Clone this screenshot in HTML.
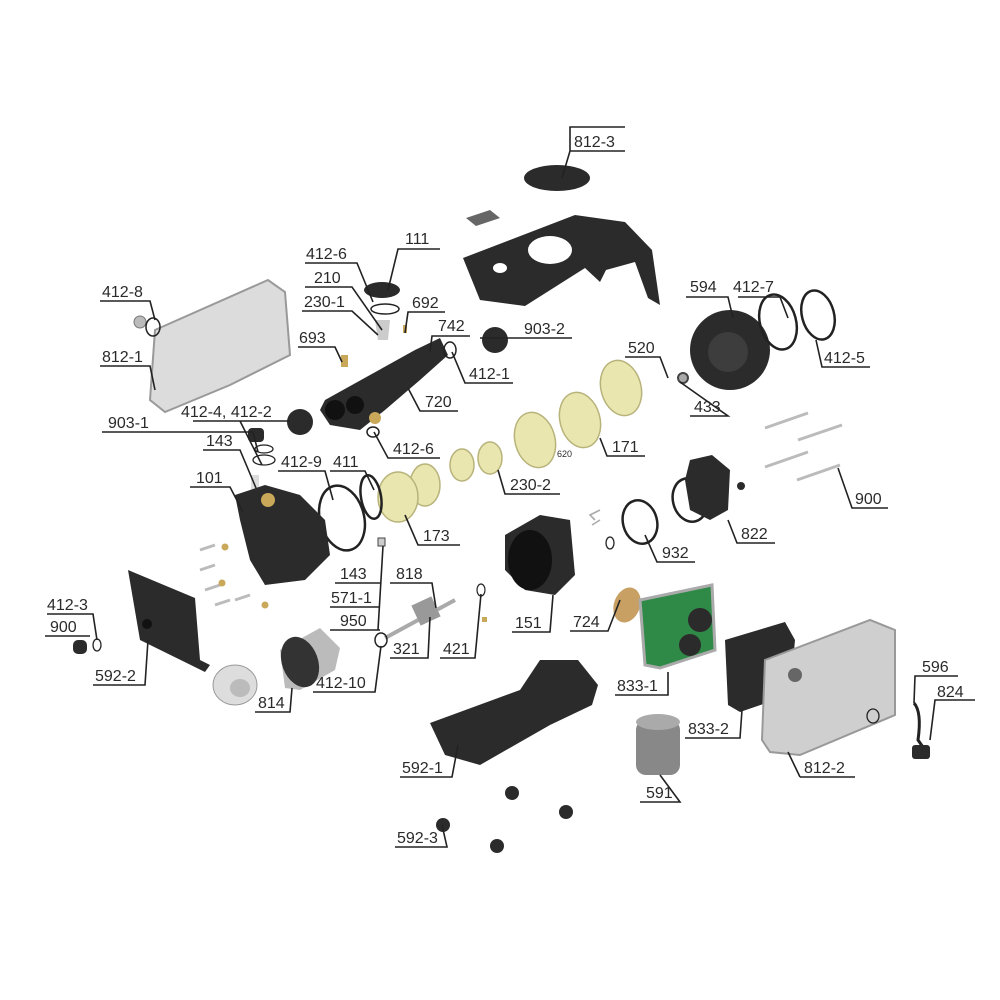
<!DOCTYPE html>
<html><head><meta charset="utf-8"><style>
html,body{margin:0;padding:0;background:#fff;}
svg{display:block}
text{font-family:"Liberation Sans",sans-serif;font-size:16px;fill:#2a2a2a;}
.l{stroke:#222;stroke-width:1.6;fill:none}
.r{fill:none;stroke:#222;stroke-width:2.5}
.d{fill:#2b2b2b}
.y{fill:#e9e6b0;stroke:#b8b37a;stroke-width:1.5}
</style></head><body>
<svg width="1000" height="1000" viewBox="0 0 1000 1000" xmlns="http://www.w3.org/2000/svg">
<!-- parts -->
<ellipse cx="557" cy="178" rx="33" ry="13" class="d"/>
<polygon points="466,218 490,210 500,218 476,226" fill="#666"/>
<polygon class="d" points="463,258 575,215 625,222 652,250 660,305 648,298 635,262 606,270 600,282 585,268 525,306 480,300"/>
<ellipse cx="550" cy="250" rx="22" ry="14" fill="#fff"/>
<ellipse cx="500" cy="268" rx="7" ry="5" fill="#fff"/>
<polygon points="155,330 268,280 285,292 290,355 230,385 165,412 150,400" fill="#dcdcdc" stroke="#999" stroke-width="2"/>
<circle cx="140" cy="322" r="6" fill="#bbb" stroke="#777"/>
<ellipse cx="153" cy="327" rx="7" ry="9" class="r" style="stroke-width:1.5"/>
<!-- top small parts -->
<ellipse cx="382" cy="290" rx="18" ry="8" class="d"/>
<ellipse cx="385" cy="309" rx="14" ry="5" class="r" style="stroke-width:1.5"/>
<polygon points="375,320 390,320 388,340 378,340" fill="#ccc"/>
<rect x="341" y="355" width="7" height="12" fill="#c9a85a"/>
<rect x="403" y="325" width="4" height="8" fill="#c9a85a"/>
<!-- 720 manifold -->
<polygon class="d" points="325,400 415,350 440,338 448,355 420,380 385,410 360,430 330,425 320,410"/>
<circle cx="335" cy="410" r="10" fill="#111"/>
<circle cx="355" cy="405" r="9" fill="#111"/>
<circle cx="375" cy="418" r="6" fill="#c9a85a"/>
<ellipse cx="450" cy="350" rx="6" ry="8" class="r" style="stroke-width:1.5"/>
<ellipse cx="373" cy="432" rx="6" ry="5" class="r" style="stroke-width:1.5"/>
<circle cx="495" cy="340" r="13" class="d"/>
<circle cx="300" cy="422" r="13" class="d"/>
<rect x="248" y="428" width="16" height="14" rx="4" class="d"/>
<ellipse cx="264" cy="449" rx="9" ry="4" class="r" style="stroke-width:1.3"/>
<ellipse cx="264" cy="460" rx="11" ry="5" class="r" style="stroke-width:1.3"/>
<rect x="251" y="475" width="8" height="20" fill="#ddd"/>
<!-- 594 & rings -->
<circle cx="730" cy="350" r="40" class="d"/>
<circle cx="728" cy="352" r="20" fill="#3d3d3d"/>
<ellipse cx="778" cy="322" rx="18" ry="28" class="r" transform="rotate(-15 778 322)"/>
<ellipse cx="818" cy="315" rx="16" ry="25" class="r" transform="rotate(-15 818 315)"/>
<circle cx="683" cy="378" r="5" fill="#aaa" stroke="#444" stroke-width="2"/>
<!-- yellow stages -->
<ellipse cx="621" cy="388" rx="20" ry="28" class="y" transform="rotate(-15 621 388)"/>
<ellipse cx="580" cy="420" rx="20" ry="28" class="y" transform="rotate(-15 580 420)"/>
<ellipse cx="535" cy="440" rx="20" ry="28" class="y" transform="rotate(-15 535 440)"/>
<ellipse cx="490" cy="458" rx="12" ry="16" class="y"/>
<ellipse cx="462" cy="465" rx="12" ry="16" class="y"/>
<ellipse cx="425" cy="485" rx="15" ry="21" class="y"/>
<ellipse cx="398" cy="497" rx="20" ry="25" class="y"/>
<text x="557" y="457" style="font-size:9px">620</text>
<ellipse cx="371" cy="497" rx="10" ry="22" class="r" transform="rotate(-10 371 497)"/>
<ellipse cx="342" cy="518" rx="22" ry="33" class="r" transform="rotate(-15 342 518)"/>
<!-- 101 pump -->
<polygon class="d" points="235,495 265,485 300,495 325,520 330,555 305,580 265,585 250,560 240,520"/>
<circle cx="268" cy="500" r="7" fill="#c9a85a"/>
<!-- screws left -->
<g stroke="#bbb" stroke-width="3">
<line x1="200" y1="550" x2="215" y2="545"/><line x1="200" y1="570" x2="215" y2="565"/><line x1="205" y1="590" x2="220" y2="585"/><line x1="215" y1="605" x2="230" y2="600"/><line x1="235" y1="600" x2="250" y2="595"/>
</g>
<circle cx="225" cy="547" r="3.5" fill="#c9a85a"/><circle cx="222" cy="583" r="3.5" fill="#c9a85a"/><circle cx="265" cy="605" r="3.5" fill="#c9a85a"/>
<!-- 592-2 -->
<polygon class="d" points="128,570 195,598 200,660 210,665 205,672 140,640"/>
<circle cx="147" cy="624" r="5" fill="#111"/>
<rect x="73" y="640" width="14" height="14" rx="5" class="d"/>
<ellipse cx="97" cy="645" rx="4" ry="6" class="r" style="stroke-width:1.3"/>
<!-- pulley & 814 -->
<ellipse cx="235" cy="685" rx="22" ry="20" fill="#ddd" stroke="#999"/>
<ellipse cx="240" cy="688" rx="10" ry="9" fill="#bbb"/>
<polygon points="280,650 320,628 340,648 335,670 300,690 285,688" fill="#bbb"/>
<ellipse cx="300" cy="662" rx="18" ry="26" fill="#333" transform="rotate(-20 300 662)"/>
<!-- shaft 818 -->
<line x1="385" y1="638" x2="455" y2="600" stroke="#aaa" stroke-width="4"/>
<rect x="415" y="600" width="22" height="22" fill="#999" transform="rotate(-25 426 611)"/>
<ellipse cx="381" cy="640" rx="6" ry="7" class="r" style="stroke-width:1.5"/>
<rect x="378" y="538" width="7" height="8" fill="#ccc" stroke="#444"/>
<ellipse cx="481" cy="590" rx="4" ry="6" class="r" style="stroke-width:1.2"/>
<rect x="482" y="617" width="5" height="5" fill="#c9a85a"/>
<!-- 151 -->
<polygon class="d" points="505,535 540,515 570,520 575,575 555,595 525,590 505,570"/>
<ellipse cx="530" cy="560" rx="22" ry="30" fill="#111"/>
<!-- 932, 822 -->
<ellipse cx="640" cy="522" rx="17" ry="22" class="r" transform="rotate(-15 640 522)"/>
<ellipse cx="610" cy="543" rx="4" ry="6" class="r" style="stroke-width:1.3"/>
<path d="M600,510 L590,515 L595,520 M600,520 L592,525" class="l" style="stroke:#aaa"/>
<ellipse cx="690" cy="500" rx="17" ry="22" class="r" transform="rotate(-15 690 500)"/>
<polygon class="d" points="690,460 712,455 730,470 728,510 710,520 690,510 685,480"/>
<circle cx="741" cy="486" r="4" class="d"/>
<g stroke="#bbb" stroke-width="3">
<line x1="765" y1="428" x2="808" y2="413"/><line x1="798" y1="440" x2="842" y2="425"/><line x1="765" y1="467" x2="808" y2="452"/><line x1="797" y1="480" x2="840" y2="465"/>
</g>
<!-- 724, 833-1 -->
<ellipse cx="627" cy="605" rx="13" ry="18" fill="#c9a064" transform="rotate(20 627 605)"/>
<polygon points="640,600 712,585 715,650 660,668 645,665" fill="#2f8a47" stroke="#aaa" stroke-width="3"/>
<circle cx="700" cy="620" r="12" class="d"/>
<circle cx="690" cy="645" r="11" class="d"/>
<!-- 833-2 -->
<polygon class="d" points="725,640 785,622 795,640 790,695 740,712 728,705"/>
<!-- 812-2 -->
<polygon points="765,660 870,620 895,630 895,715 800,755 770,752 762,740" fill="#cfcfcf" stroke="#999" stroke-width="2"/>
<circle cx="795" cy="675" r="7" fill="#666"/>
<ellipse cx="873" cy="716" rx="6" ry="7" class="r" style="stroke-width:1.3"/>
<!-- 824 cable -->
<path d="M914,703 Q922,712 918,740 L925,750" stroke="#222" stroke-width="3" fill="none"/>
<rect x="912" y="745" width="18" height="14" rx="3" class="d"/>
<!-- 591 -->
<rect x="636" y="720" width="44" height="55" rx="10" fill="#888"/>
<ellipse cx="658" cy="722" rx="22" ry="8" fill="#aaa"/>
<!-- 592-1 base -->
<polygon class="d" points="430,723 520,690 540,660 578,660 598,685 592,705 550,725 480,765 445,755"/>
<!-- feet -->
<g class="d"><circle cx="512" cy="793" r="7"/><circle cx="566" cy="812" r="7"/><circle cx="443" cy="825" r="7"/><circle cx="497" cy="846" r="7"/></g>

<!-- labels -->
<g class="l">
<path d="M625,127 H570 V151 L562,178 M570,151 H625"/>
<path d="M305,263 H357 L373,302"/>
<path d="M440,249 H398 L388,290"/>
<path d="M305,287 H352 L382,330"/>
<path d="M302,311 H352 L378,335"/>
<path d="M445,312 H408 L405,333"/>
<path d="M470,336 H432 L430,352"/>
<path d="M298,347 H335 L342,362"/>
<path d="M513,383 H465 L452,352"/>
<path d="M458,411 H420 L408,388"/>
<path d="M440,458 H388 L374,432"/>
<path d="M100,301 H150 L155,320"/>
<path d="M100,366 H150 L155,390"/>
<path d="M193,421 H290 M240,421 L262,465"/>
<path d="M102,432 H253 L258,452"/>
<path d="M203,450 H240 L256,488"/>
<path d="M190,487 H230 L243,512"/>
<path d="M278,471 H325 L333,500"/>
<path d="M330,471 H365 L374,490"/>
<path d="M460,545 H418 L405,515"/>
<path d="M335,583 H380 M330,607 H380 M330,630 H380 M383,546 L378,630"/>
<path d="M390,583 H432 L436,608"/>
<path d="M390,658 H428 L430,617"/>
<path d="M440,658 H475 L481,594"/>
<path d="M313,692 H375 L381,646"/>
<path d="M47,614 H93 L97,640"/>
<path d="M45,636 H90"/>
<path d="M93,685 H145 L148,640"/>
<path d="M255,712 H290 L292,688"/>
<path d="M480,338 H572"/>
<path d="M625,357 H660 L668,378"/>
<path d="M690,416 H728 L680,382"/>
<path d="M686,297 H728 L733,318"/>
<path d="M738,297 H780 L788,318"/>
<path d="M870,367 H822 L816,340"/>
<path d="M645,456 H607 L600,438"/>
<path d="M560,494 H505 L498,470"/>
<path d="M888,508 H852 L838,468"/>
<path d="M775,543 H737 L728,520"/>
<path d="M695,562 H657 L645,535"/>
<path d="M512,632 H550 L553,595"/>
<path d="M570,631 H608 L620,600"/>
<path d="M615,695 H668 L668,672"/>
<path d="M685,738 H740 L742,710"/>
<path d="M958,676 H915 L914,703"/>
<path d="M975,700 H935 L930,740"/>
<path d="M800,777 H855 M800,777 L788,752"/>
<path d="M640,802 H680 L660,775"/>
<path d="M400,777 H452 L458,745"/>
<path d="M395,847 H447 L442,825"/>
</g>
<text x="574" y="147">812-3</text>
<text x="306" y="259">412-6</text>
<text x="405" y="244">111</text>
<text x="314" y="283">210</text>
<text x="304" y="307">230-1</text>
<text x="412" y="308">692</text>
<text x="438" y="331">742</text>
<text x="299" y="343">693</text>
<text x="469" y="379">412-1</text>
<text x="425" y="407">720</text>
<text x="393" y="454">412-6</text>
<text x="102" y="297">412-8</text>
<text x="102" y="362">812-1</text>
<text x="181" y="417">412-4, 412-2</text>
<text x="108" y="428">903-1</text>
<text x="206" y="446">143</text>
<text x="196" y="483">101</text>
<text x="281" y="467">412-9</text>
<text x="333" y="467">411</text>
<text x="423" y="541">173</text>
<text x="340" y="579">143</text>
<text x="331" y="603">571-1</text>
<text x="340" y="626">950</text>
<text x="396" y="579">818</text>
<text x="393" y="654">321</text>
<text x="443" y="654">421</text>
<text x="316" y="688">412-10</text>
<text x="47" y="610">412-3</text>
<text x="50" y="632">900</text>
<text x="95" y="681">592-2</text>
<text x="258" y="708">814</text>
<text x="524" y="334">903-2</text>
<text x="628" y="353">520</text>
<text x="694" y="412">433</text>
<text x="690" y="292">594</text>
<text x="733" y="292">412-7</text>
<text x="824" y="363">412-5</text>
<text x="612" y="452">171</text>
<text x="510" y="490">230-2</text>
<text x="855" y="504">900</text>
<text x="741" y="539">822</text>
<text x="662" y="558">932</text>
<text x="515" y="628">151</text>
<text x="573" y="627">724</text>
<text x="617" y="691">833-1</text>
<text x="688" y="734">833-2</text>
<text x="922" y="672">596</text>
<text x="937" y="697">824</text>
<text x="804" y="773">812-2</text>
<text x="646" y="798">591</text>
<text x="402" y="773">592-1</text>
<text x="397" y="843">592-3</text>
</svg>
</body></html>
